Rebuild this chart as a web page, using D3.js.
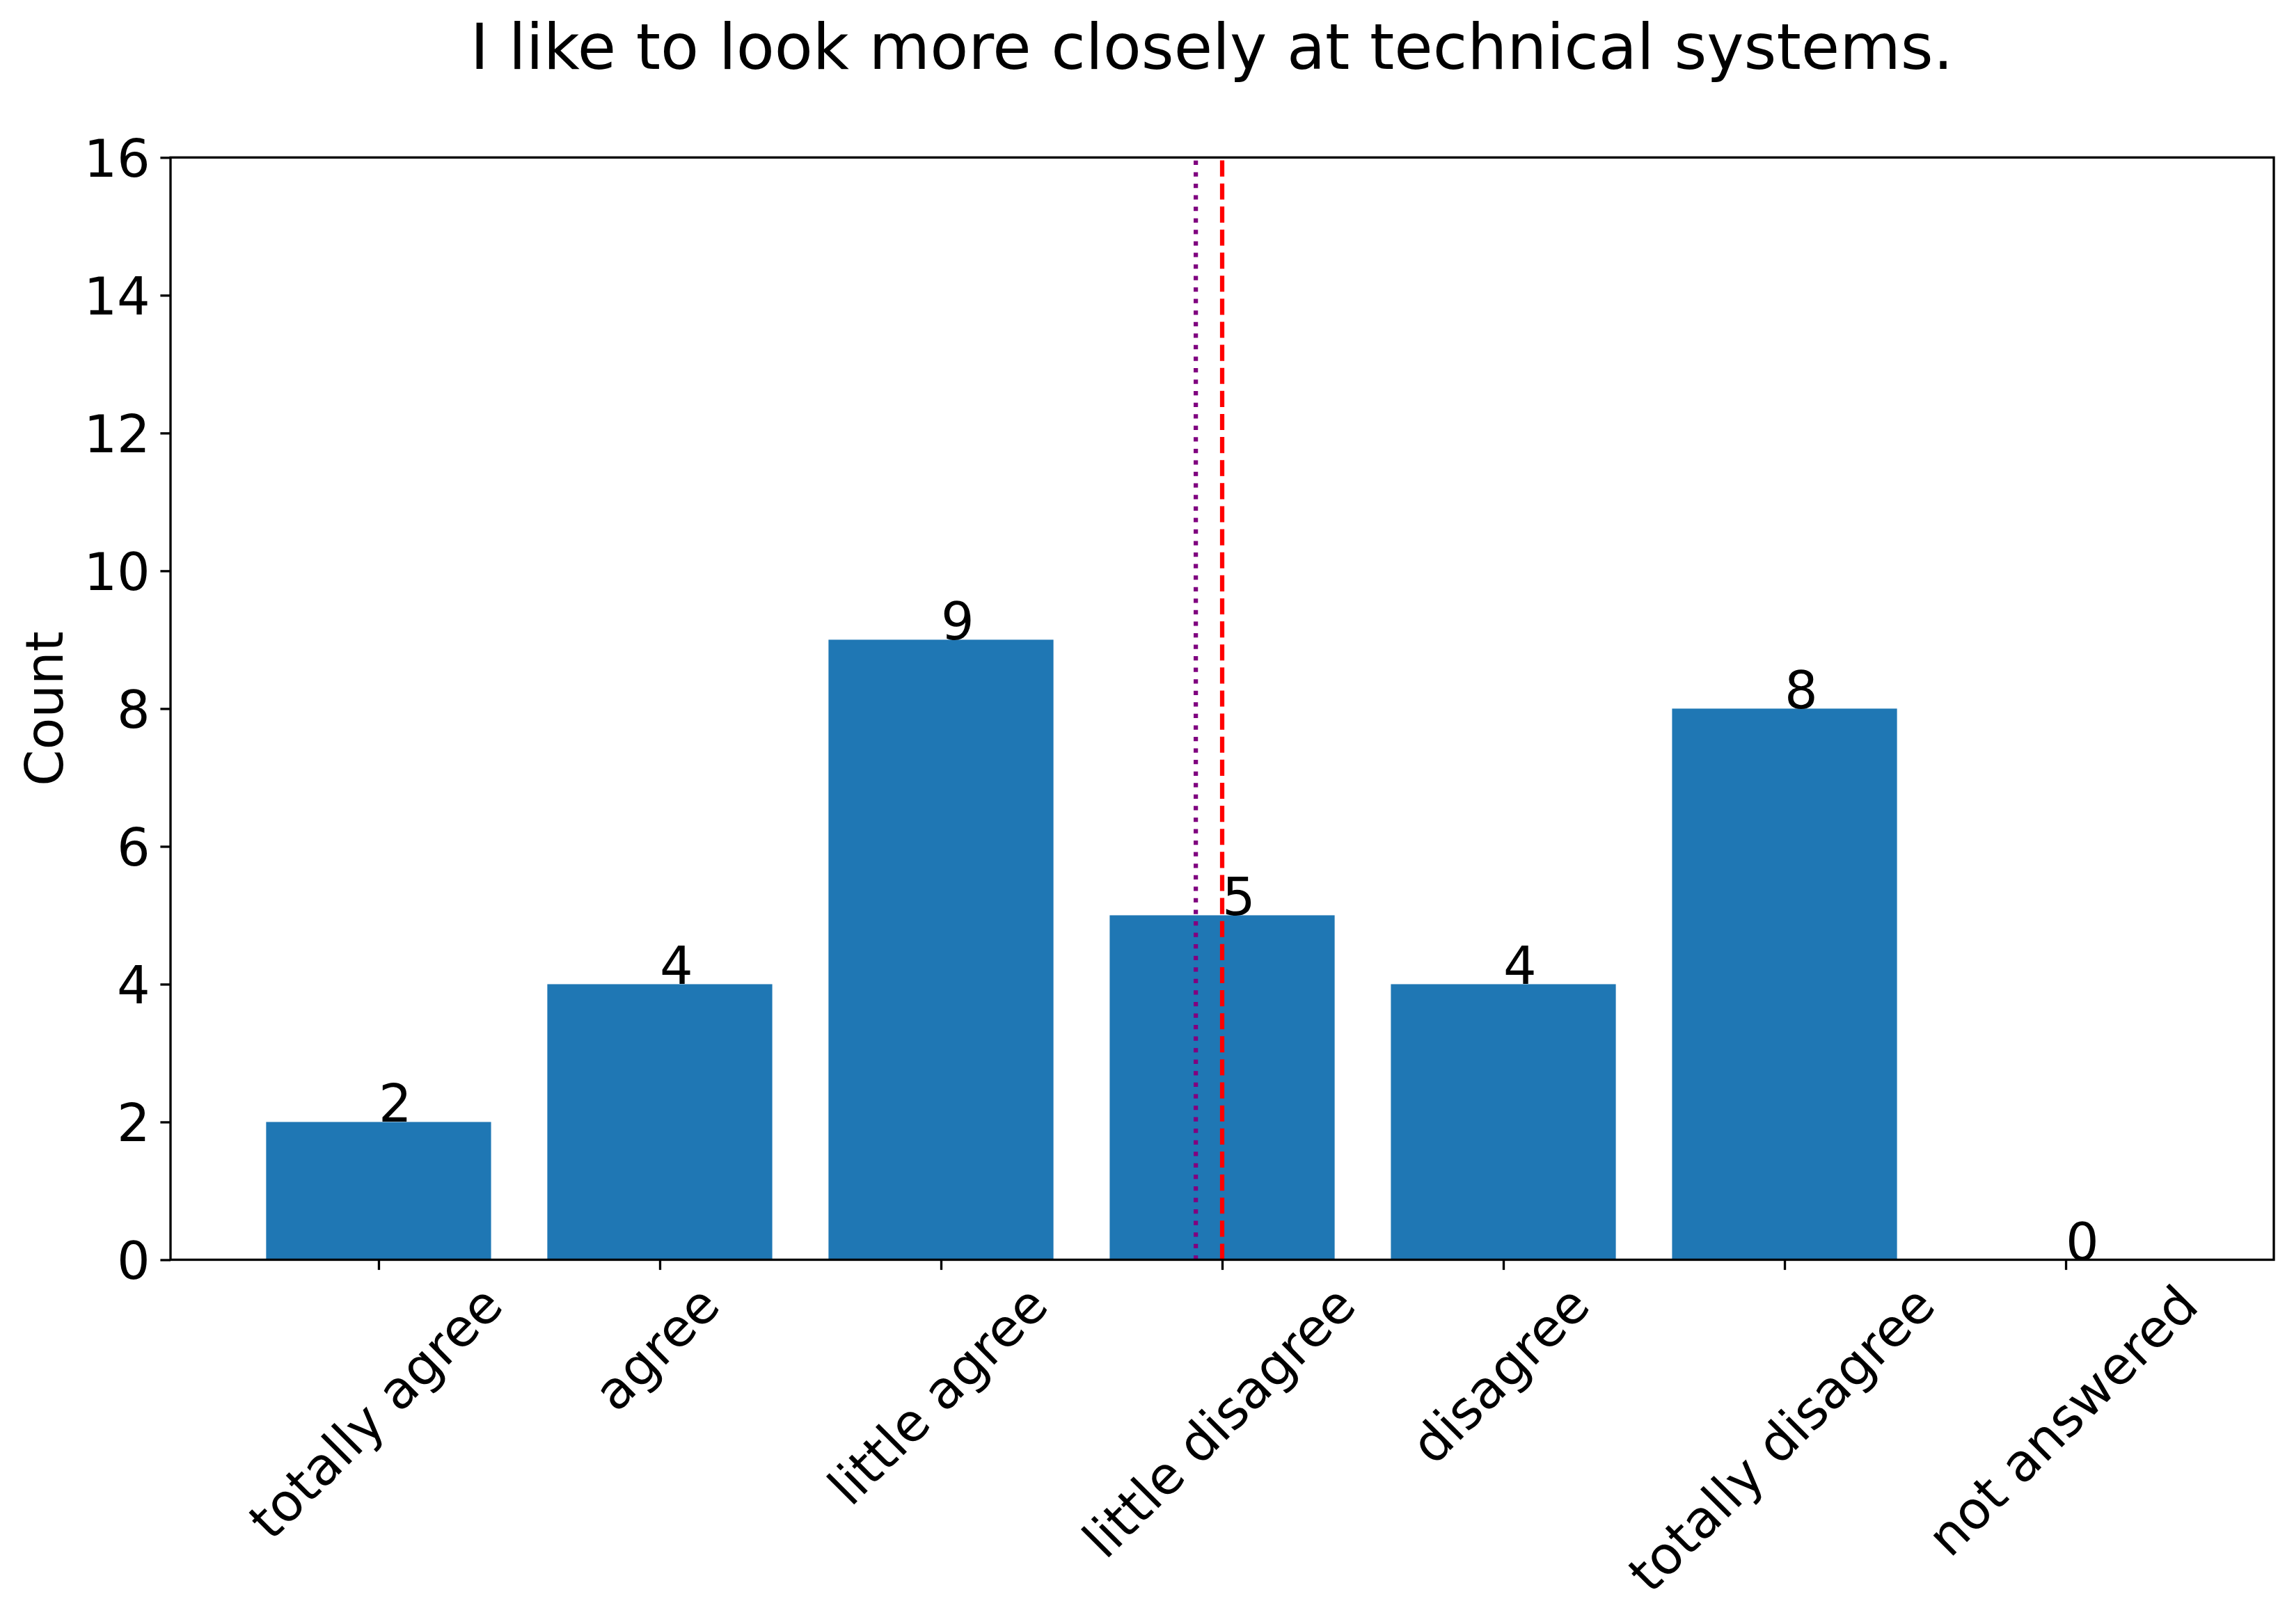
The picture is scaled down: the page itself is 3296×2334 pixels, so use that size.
<!DOCTYPE html>
<html>
<head>
<meta charset="utf-8">
<script src="https://cdn.jsdelivr.net/npm/d3@7"></script>
<style>
  html, body { margin: 0; padding: 0; background: #ffffff; }
  svg { display: block; }
  text { font-family: "DejaVu Sans", sans-serif; fill: #000; }
</style>
</head>
<body>
<svg id="chart" width="3296" height="2334"></svg>
<script>
// ---- data ----
const categories = ["totally agree", "agree", "little agree", "little disagree", "disagree", "totally disagree", "not answered"];
const counts = [2, 4, 9, 5, 4, 8, 0];
const yTicks = [0, 2, 4, 6, 8, 10, 12, 14, 16];
const titleText = "I like to look more closely at technical systems.";
const yLabelText = "Count";
// reference lines (in category-index units)
const meanValue = 93 / 32;   // purple dotted (mean of answered responses)
const medianValue = 3;       // red dashed (median)

(function () {
// ---- layout ----
const W = 3296, H = 2334;
const pL = 245, pR = 3267, pT = 226.3, pB = 1810.5;
const fs = 75, titleFs = 90;
const tickLen = 14.6, tickPad = 14.6;
const spineW = 3.33;

const svg = d3.select("#chart");
svg.append("rect").attr("width", W).attr("height", H).attr("fill", "#fff");

const x = d3.scaleLinear().domain([-0.74, 6.74]).range([pL, pR]);
const y = d3.scaleLinear().domain([0, 16]).range([pB, pT]);
const barW = 0.8;

// bars
svg.append("g").selectAll("rect").data(counts).join("rect")
  .attr("x", (d, i) => x(i - barW / 2))
  .attr("width", (d, i) => x(i + barW / 2) - x(i - barW / 2))
  .attr("y", d => y(d))
  .attr("height", d => y(0) - y(d))
  .attr("fill", "#1f77b4");

// value labels
svg.append("g").selectAll("text").data(counts).join("text")
  .attr("x", (d, i) => x(i))
  .attr("y", d => y(d))
  .attr("text-anchor", "start")
  .style("font-size", fs + "px")
  .text(d => d);

// reference lines (drawn from bottom to top like axvline)
const lw = 1.5 * 300 / 72;
svg.append("line")
  .attr("x1", x(meanValue)).attr("x2", x(meanValue))
  .attr("y1", y(0)).attr("y2", y(16))
  .attr("stroke", "#800080").attr("stroke-width", lw)
  .attr("stroke-dasharray", `${1 * lw} ${1.65 * lw}`);
svg.append("line")
  .attr("x1", x(medianValue)).attr("x2", x(medianValue))
  .attr("y1", y(0)).attr("y2", y(16))
  .attr("stroke", "#ff0000").attr("stroke-width", lw)
  .attr("stroke-dasharray", `${3.7 * lw} ${1.6 * lw}`);

// y axis
const yAxis = d3.axisLeft(y).tickValues(yTicks).tickSize(tickLen).tickSizeOuter(0).tickPadding(tickPad);
const gy = svg.append("g").attr("transform", `translate(${pL},0)`).call(yAxis);
gy.select(".domain").remove();
gy.selectAll(".tick line").attr("stroke", "#000").attr("stroke-width", spineW);
gy.selectAll(".tick text")
  .attr("font-family", null)
  .attr("font-size", null)
  .style("font-size", fs + "px")
  .attr("dy", "0.36em")
  .attr("fill", "#000");
gy.attr("font-family", null).attr("font-size", null);

// x axis ticks
const xAxis = d3.axisBottom(x).tickValues(d3.range(categories.length)).tickSize(tickLen).tickSizeOuter(0).tickFormat(() => "");
const gx = svg.append("g").attr("transform", `translate(0,${pB})`).call(xAxis);
gx.select(".domain").remove();
gx.selectAll(".tick text").remove();
gx.selectAll(".tick line").attr("stroke", "#000").attr("stroke-width", spineW);

// rotated x tick labels (matplotlib style: rotated bbox centred on tick, top aligned)
const labelTop = pB + tickLen + tickPad;
const lineH = 0.996 * fs;
const gl = svg.append("g");
categories.forEach((c, i) => {
  const t = gl.append("text")
    .style("font-size", fs + "px")
    .attr("text-anchor", "middle")
    .text(c);
  const w = t.node().getComputedTextLength();
  const side = (w + lineH) / Math.SQRT2;
  const cx = x(i), cy = labelTop + side / 2;
  t.attr("transform", `translate(${cx},${cy}) rotate(-45)`)
   .attr("x", 0).attr("y", 0.262 * fs);
});

// frame (spines)
svg.append("rect")
  .attr("x", pL).attr("y", pT)
  .attr("width", pR - pL).attr("height", pB - pT)
  .attr("fill", "none").attr("stroke", "#000").attr("stroke-width", spineW);

// y label
svg.append("text")
  .attr("transform", `translate(90,${(pT + pB) / 2}) rotate(-90)`)
  .attr("text-anchor", "middle")
  .style("font-size", fs + "px")
  .text(yLabelText);

// title
svg.append("text")
  .attr("x", 1741).attr("y", 99)
  .attr("text-anchor", "middle")
  .style("font-size", titleFs + "px")
  .text(titleText);
})();
</script>
</body>
</html>
